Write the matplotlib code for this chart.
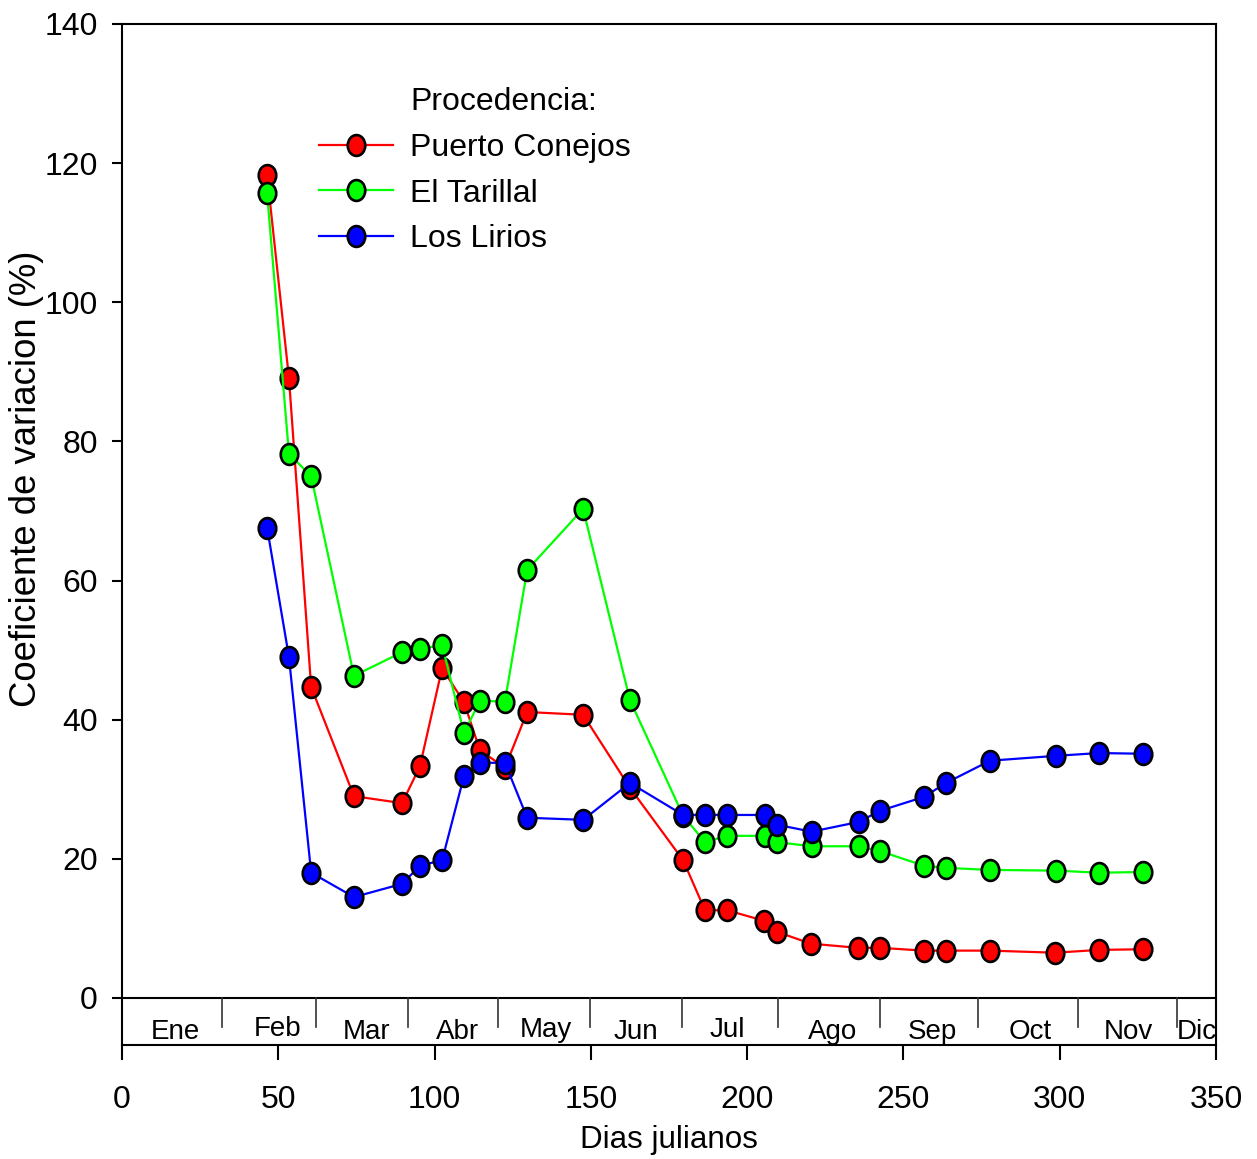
import matplotlib
matplotlib.use("Agg")
import matplotlib.pyplot as plt
import numpy as np
from matplotlib.lines import Line2D
from matplotlib.path import Path

# Dias julianos de muestreo
dias_red = [46.4, 53.4, 60.5, 74.2, 89.6, 95.3, 102.4, 109.4, 114.5, 122.5, 129.6,
            147.5, 162.5, 179.5, 186.5, 193.5, 205.4, 209.5, 220.4, 235.4, 242.5,
            256.6, 263.6, 277.7, 298.5, 312.5, 326.6]
cv_puerto = [118.3, 89.1, 44.7, 29.0, 28.0, 33.3, 47.4, 42.5, 35.6, 33.1, 41.1,
             40.7, 30.2, 19.8, 12.6, 12.6, 11.1, 9.5, 7.8, 7.2, 7.2,
             6.8, 6.8, 6.8, 6.5, 6.9, 7.0]

dias_green = [46.4, 53.4, 60.5, 74.2, 89.6, 95.3, 102.4, 109.4, 114.5, 122.5, 129.6,
              147.5, 162.5, 179.5, 186.5, 193.5, 205.7, 209.5, 220.6, 235.7, 242.5,
              256.6, 263.6, 277.7, 298.8, 312.5, 326.6]
cv_tarillal = [115.7, 78.2, 75.0, 46.3, 49.7, 50.2, 50.7, 38.1, 42.7, 42.6, 61.5,
               70.3, 42.8, 26.2, 22.4, 23.3, 23.3, 22.4, 21.8, 21.8, 21.1,
               19.0, 18.7, 18.4, 18.3, 18.0, 18.1]

dias_blue = [46.4, 53.4, 60.5, 74.2, 89.6, 95.3, 102.4, 109.4, 114.5, 122.5, 129.6,
             147.5, 162.5, 179.5, 186.5, 193.5, 205.7, 209.5, 220.6, 235.7, 242.5,
             256.6, 263.6, 277.7, 298.8, 312.5, 326.6]
cv_lirios = [67.6, 49.0, 18.0, 14.5, 16.4, 19.0, 19.8, 31.9, 33.8, 33.8, 25.9,
             25.6, 30.9, 26.3, 26.3, 26.3, 26.3, 24.9, 23.9, 25.3, 26.9,
             28.9, 30.9, 34.1, 34.8, 35.2, 35.1]

meses = ["Ene", "Feb", "Mar", "Abr", "May", "Jun", "Jul", "Ago", "Sep", "Oct", "Nov", "Dic"]
mes_centro = [17.0, 49.9, 78.1, 107.2, 135.6, 164.4, 193.5, 227.4, 259.1, 290.5, 322.1, 343.8]
mes_base = [-5.9, -5.45, -5.95, -5.9, -5.6, -5.95, -5.6, -5.9, -5.9, -5.9, -5.9, -5.9]
mes_limites = [32.0, 62.1, 91.5, 120.3, 149.7, 179.1, 209.9, 242.5, 273.8, 305.8, 337.5]

series = [("Puerto Conejos", dias_red, cv_puerto, "#ff0000"),
          ("El Tarillal", dias_green, cv_tarillal, "#00ff00"),
          ("Los Lirios", dias_blue, cv_lirios, "#0000ff")]

plt.rcParams["font.family"] = ["Liberation Sans", "DejaVu Sans"]

# slightly tall ellipse marker (the original is vertically stretched)
circ = Path.unit_circle()
ellipse = Path(circ.vertices * np.array([0.84, 1.0]), circ.codes)

fig = plt.figure(figsize=(12.57, 11.59), dpi=100)
ax = fig.add_axes([0.0971, 0.0984, 0.8703, 0.8809])

for name, x, y, c in series:
    ax.plot(x, y, color=c, lw=1.6, marker=ellipse, ms=15, mfc=c, mec="black",
            mew=1.9, label=name)

ax.set_xlim(0, 350)
ax.set_ylim(-6.76, 140)
ax.set_xticks(np.arange(0, 351, 50))
ax.set_yticks(np.arange(0, 141, 20))

# month band below zero
ax.axhline(0, color="black", lw=1.5)
for xb in mes_limites:
    ax.plot([xb, xb], [0, -4.2], color="#333333", lw=1.2)
for m, xc, yb in zip(meses, mes_centro, mes_base):
    ax.text(xc, yb, m, ha="center", va="baseline", fontsize=20)

for s in ax.spines.values():
    s.set_linewidth(1.5)
ax.tick_params(axis="x", direction="out", length=11, width=1.5, pad=18, labelsize=23)
ax.tick_params(axis="y", direction="out", length=7.5, width=1.5, pad=10, labelsize=23)

ax.set_xlabel("Dias julianos", fontsize=22.6, labelpad=7)
ax.set_ylabel("Coeficiente de variacion (%)", fontsize=26.3)
ax.yaxis.set_label_coords(-0.071, 0.555)

handles, labels = ax.get_legend_handles_labels()
blank = Line2D([], [], linestyle="none")
ax.legend([blank] + handles, ["Procedencia:"] + labels, loc="upper left",
          bbox_to_anchor=(0.18, 0.938), frameon=False, fontsize=23,
          handlelength=2.32, handletextpad=0.53, labelspacing=0.49,
          borderpad=0, borderaxespad=0)

fig.savefig("out.png", dpi=100)
